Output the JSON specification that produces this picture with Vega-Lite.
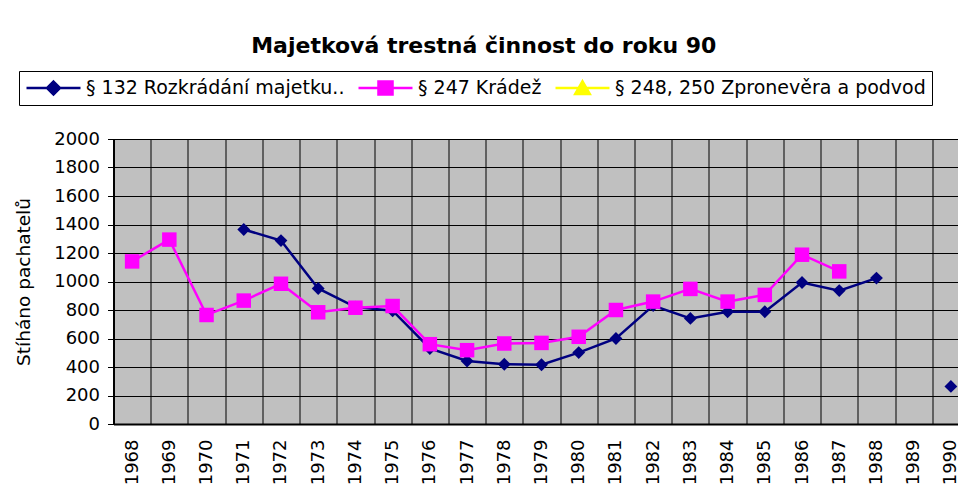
{
  "$schema": "https://vega.github.io/schema/vega-lite/v6.json",
  "width": 844.5,
  "height": 285,
  "autosize": {"type": "none"},
  "padding": {"left": 113.5, "top": 139, "right": 0, "bottom": 62},
  "background": "white",
  "title": {
    "text": "Majetková trestná činnost do roku 90",
    "font": "DejaVu Sans",
    "fontSize": 22,
    "fontWeight": "bold",
    "color": "black",
    "anchor": "middle",
    "frame": "group",
    "dx": -52,
    "offset": -4,
    "baseline": "alphabetic"
  },
  "config": {
    "view": {"fill": "#C0C0C0", "stroke": "#808080", "strokeWidth": 1}
  },
  "data": {
    "values": [
      {"year": 1971, "series": "§ 132 Rozkrádání majetku..", "value": 1365},
      {"year": 1972, "series": "§ 132 Rozkrádání majetku..", "value": 1287},
      {"year": 1973, "series": "§ 132 Rozkrádání majetku..", "value": 951},
      {"year": 1974, "series": "§ 132 Rozkrádání majetku..", "value": 820},
      {"year": 1975, "series": "§ 132 Rozkrádání majetku..", "value": 795},
      {"year": 1976, "series": "§ 132 Rozkrádání majetku..", "value": 530},
      {"year": 1977, "series": "§ 132 Rozkrádání majetku..", "value": 442},
      {"year": 1978, "series": "§ 132 Rozkrádání majetku..", "value": 419},
      {"year": 1979, "series": "§ 132 Rozkrádání majetku..", "value": 416},
      {"year": 1980, "series": "§ 132 Rozkrádání majetku..", "value": 501},
      {"year": 1981, "series": "§ 132 Rozkrádání majetku..", "value": 600},
      {"year": 1982, "series": "§ 132 Rozkrádání majetku..", "value": 831},
      {"year": 1983, "series": "§ 132 Rozkrádání majetku..", "value": 741},
      {"year": 1984, "series": "§ 132 Rozkrádání majetku..", "value": 788},
      {"year": 1985, "series": "§ 132 Rozkrádání majetku..", "value": 788},
      {"year": 1986, "series": "§ 132 Rozkrádání majetku..", "value": 993},
      {"year": 1987, "series": "§ 132 Rozkrádání majetku..", "value": 936},
      {"year": 1988, "series": "§ 132 Rozkrádání majetku..", "value": 1024},
      {"year": 1989, "series": "§ 132 Rozkrádání majetku..", "value": null},
      {"year": 1990, "series": "§ 132 Rozkrádání majetku..", "value": 264},
      {"year": 1968, "series": "§ 247 Krádež", "value": 1141},
      {"year": 1969, "series": "§ 247 Krádež", "value": 1294},
      {"year": 1970, "series": "§ 247 Krádež", "value": 765},
      {"year": 1971, "series": "§ 247 Krádež", "value": 866},
      {"year": 1972, "series": "§ 247 Krádež", "value": 984},
      {"year": 1973, "series": "§ 247 Krádež", "value": 784},
      {"year": 1974, "series": "§ 247 Krádež", "value": 816},
      {"year": 1975, "series": "§ 247 Krádež", "value": 828},
      {"year": 1976, "series": "§ 247 Krádež", "value": 560},
      {"year": 1977, "series": "§ 247 Krádež", "value": 518},
      {"year": 1978, "series": "§ 247 Krádež", "value": 565},
      {"year": 1979, "series": "§ 247 Krádež", "value": 569},
      {"year": 1980, "series": "§ 247 Krádež", "value": 612},
      {"year": 1981, "series": "§ 247 Krádež", "value": 800},
      {"year": 1982, "series": "§ 247 Krádež", "value": 859},
      {"year": 1983, "series": "§ 247 Krádež", "value": 948},
      {"year": 1984, "series": "§ 247 Krádež", "value": 859},
      {"year": 1985, "series": "§ 247 Krádež", "value": 906},
      {"year": 1986, "series": "§ 247 Krádež", "value": 1188},
      {"year": 1987, "series": "§ 247 Krádež", "value": 1071}
    ]
  },
  "encoding": {
    "x": {
      "field": "year",
      "type": "ordinal",
      "bandPosition": 0.5,
      "scale": {
        "type": "band",
        "domain": [1968, 1969, 1970, 1971, 1972, 1973, 1974, 1975, 1976, 1977, 1978, 1979, 1980, 1981, 1982, 1983, 1984, 1985, 1986, 1987, 1988, 1989, 1990],
        "paddingInner": 0,
        "paddingOuter": 0,
        "range": [0, 856]
      },
      "axis": {
        "title": null,
        "labelAngle": -90,
        "labelFont": "DejaVu Sans",
        "labelFontSize": 18,
        "labelColor": "black",
        "labelPadding": 15,
        "labelOverlap": false,
        "ticks": false,
        "tickBand": "extent",
        "grid": true,
        "gridColor": "black",
        "gridOpacity": 1,
        "gridWidth": 1,
        "domainColor": "black",
        "domainWidth": 2
      }
    },
    "y": {
      "field": "value",
      "type": "quantitative",
      "scale": {"domain": [0, 2000], "nice": false},
      "axis": {
        "title": "Stíháno pachatelů",
        "titleFont": "DejaVu Sans",
        "titleFontSize": 18.5,
        "titleFontWeight": "normal",
        "titleColor": "black",
        "titlePadding": 20,
        "values": [0, 200, 400, 600, 800, 1000, 1200, 1400, 1600, 1800, 2000],
        "format": "d",
        "labelFont": "DejaVu Sans",
        "labelFontSize": 18,
        "labelColor": "black",
        "labelPadding": 8,
        "labelFlush": false,
        "labelOverlap": false,
        "tickSize": 6,
        "tickColor": "black",
        "grid": true,
        "gridColor": "black",
        "gridOpacity": 1,
        "gridWidth": 1,
        "domainColor": "black",
        "domainWidth": 2
      }
    },
    "color": {
      "field": "series",
      "type": "nominal",
      "scale": {
        "domain": ["§ 132 Rozkrádání majetku..", "§ 247 Krádež", "§ 248, 250 Zpronevěra a podvod"],
        "range": ["#000080", "#FF00FF", "#FFFF00"]
      },
      "legend": {
        "title": null,
        "orient": "none",
        "legendX": -94.5,
        "legendY": -68,
        "direction": "horizontal",
        "strokeColor": "black",
        "fillColor": "white",
        "padding": 6,
        "symbolSize": 2916,
        "symbolStrokeWidth": 2.5,
        "clipHeight": 22,
        "labelFont": "DejaVu Sans",
        "labelFontSize": 19,
        "labelColor": "black",
        "labelLimit": 400,
        "labelOffset": 4,
        "columnPadding": 12,
        "encode": {
          "symbols": {
            "update": {
              "shape": {"signal": "datum.index === 0 ? 'M-1,0H1M0,-0.24L0.24,0L0,0.24L-0.24,0Z' : datum.index === 1 ? 'M-1,0H1M-0.26,-0.24H0.26V0.24H-0.26Z' : 'M-1,0H1M0,-0.25L0.27,0.22H-0.27Z'"},
              "fill": {"scale": "color", "field": "value"},
              "stroke": {"scale": "color", "field": "value"},
              "strokeWidth": {"value": 2.5},
              "opacity": {"value": 1},
              "fillOpacity": {"value": 1},
              "strokeOpacity": {"value": 1}
            }
          }
        }
      }
    }
  },
  "layer": [
    {
      "mark": {"type": "line", "strokeWidth": 2.5, "invalid": "break-paths-show-domains"}
    },
    {
      "transform": [{"filter": {"field": "series", "equal": "§ 132 Rozkrádání majetku.."}}],
      "mark": {"type": "point", "shape": "diamond", "filled": true, "size": 165, "opacity": 1, "strokeWidth": 1, "invalid": "filter"}
    },
    {
      "transform": [{"filter": {"field": "series", "equal": "§ 247 Krádež"}}],
      "mark": {"type": "point", "shape": "square", "filled": true, "size": 210, "opacity": 1, "strokeWidth": 1, "invalid": "filter"}
    }
  ]
}
